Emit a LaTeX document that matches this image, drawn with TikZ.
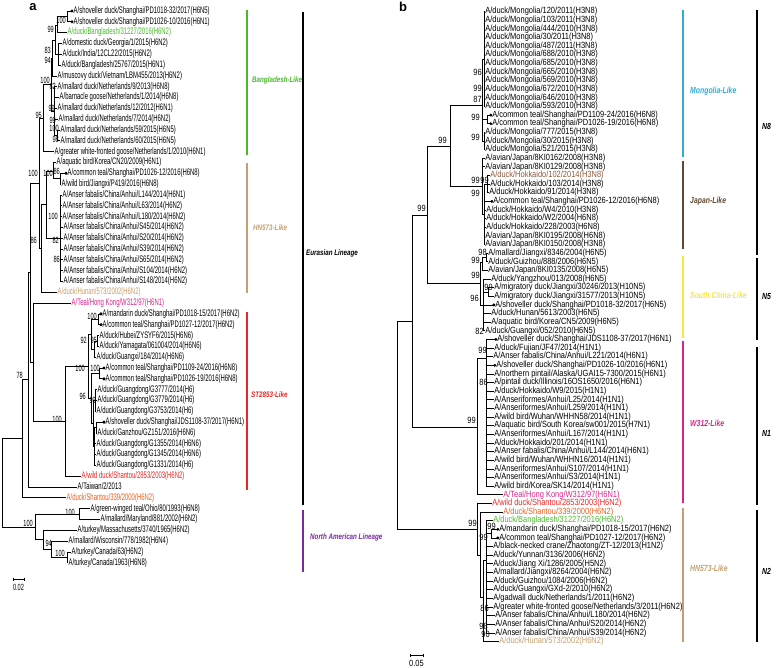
\documentclass[tikz,border=0pt]{standalone}
\usepackage{fontspec}
\setmainfont{Liberation Sans}
\newfontfamily\lfont[FakeStretch=0.625]{Liberation Sans}
\newfontfamily\rfont[FakeStretch=0.83]{Liberation Sans}
\newfontfamily\cfont[FakeStretch=0.78]{Liberation Sans}
\definecolor{cBang}{RGB}{77,183,46}
\definecolor{cHN}{RGB}{196,160,112}
\definecolor{cST}{RGB}{232,38,36}
\definecolor{cW}{RGB}{214,38,140}
\definecolor{cSto}{RGB}{232,96,30}
\definecolor{cNA}{RGB}{120,40,160}
\definecolor{cMon}{RGB}{50,172,214}
\definecolor{cJap}{RGB}{98,72,48}
\definecolor{cSC}{RGB}{250,230,60}
\definecolor{cHok}{RGB}{140,90,60}
\tikzset{
  br/.style={line width=0.7pt},
  lf/.style={anchor=west, inner sep=0.5pt, text height=6.8pt, text depth=2pt, font=\lfont\fontsize{9.5pt}{9.5pt}\selectfont},
  rf/.style={anchor=west, inner sep=0.1pt, text height=6.4pt, text depth=1.9pt, font=\rfont\fontsize{9pt}{9pt}\selectfont},
  lbs/.style={anchor=east, inner sep=0pt, font=\lfont\fontsize{9pt}{9pt}\selectfont},
  rbs/.style={anchor=east, inner sep=0pt, font=\rfont\fontsize{9pt}{9pt}\selectfont},
  bar/.style={line width=1.6pt},
  lcl/.style={anchor=west, inner sep=0pt, font=\cfont\bfseries\itshape\fontsize{8pt}{8pt}\selectfont},
  rcl/.style={anchor=west, inner sep=0pt, font=\cfont\bfseries\itshape\fontsize{8.8pt}{8.8pt}\selectfont},
  pnl/.style={inner sep=0pt, font=\bfseries\fontsize{13pt}{13pt}\selectfont}
}
\begin{document}
\begin{tikzpicture}[x=1pt,y=-1pt]
\useasboundingbox (0,0) rectangle (778,668);
\node[pnl] (pa) at (33,7) {a};
\node[pnl] (pb) at (403,7) {b};

\node[lf] (a1) at (73,11) {A/shoveller duck/Shanghai/PD1018-32/2017(H6N5)};
\node[lf] (a2) at (73,21.8) {A/shoveller duck/Shanghai/PD1026-10/2016(H6N1)};
\node[lf, cBang] (a3) at (67,32.6) {A/duck/Bangladesh/31227/2016(H6N2)};
\node[lf] (a4) at (62,43.5) {A/domestic duck/Georgia/1/2015(H6N2)};
\node[lf] (a5) at (62,54.3) {A/duck/India/12CL22/2015(H6N2)};
\node[lf] (a6) at (61,65.1) {A/duck/Bangladesh/25767/2015(H6N1)};
\node[lf] (a7) at (57,75.9) {A/muscovy duck/Vietnam/LBM455/2013(H6N2)};
\node[lf] (a8) at (57,86.7) {A/mallard duck/Netherlands/9/2013(H6N8)};
\node[lf] (a9) at (59,97.6) {A/barnacle goose/Netherlands/1/2014(H6N8)};
\node[lf] (a10) at (57,108.4) {A/mallard duck/Netherlands/12/2012(H6N1)};
\node[lf] (a11) at (58,119.2) {A/mallard duck/Netherlands/7/2014(H6N2)};
\node[lf] (a12) at (60,130) {A/mallard duck/Netherlands/59/2015(H6N5)};
\node[lf] (a13) at (60,140.8) {A/mallard duck/Netherlands/60/2015(H6N5)};
\node[lf] (a14) at (54,151.7) {A/greater white-fronted goose/Netherlands/1/2010(H6N1)};
\node[lf] (a15) at (56,162.5) {A/aquatic bird/Korea/CN20/2009(H6N1)};
\node[lf] (a16) at (67,173.3) {A/common teal/Shanghai/PD1026-12/2016(H6N8)};
\node[lf] (a17) at (61,184.1) {A/wild bird/Jiangxi/P419/2016(H6N8)};
\node[lf] (a18) at (62,194.9) {A/Anser fabalis/China/Anhui/L144/2014(H6N1)};
\node[lf] (a19) at (62,205.8) {A/Anser fabalis/China/Anhui/L63/2014(H6N2)};
\node[lf] (a20) at (62,216.6) {A/Anser fabalis/China/Anhui/L180/2014(H6N2)};
\node[lf] (a21) at (63,227.4) {A/Anser fabalis/China/Anhui/S45/2014(H6N2)};
\node[lf] (a22) at (63,238.2) {A/Anser fabalis/China/Anhui/S20/2014(H6N2)};
\node[lf] (a23) at (63,249) {A/Anser fabalis/China/Anhui/S39/2014(H6N2)};
\node[lf] (a24) at (63,259.8) {A/Anser fabalis/China/Anhui/S65/2014(H6N2)};
\node[lf] (a25) at (63,270.7) {A/Anser fabalis/China/Anhui/S104/2014(H6N2)};
\node[lf] (a26) at (63,281.5) {A/Anser fabalis/China/Anhui/S148/2014(H6N2)};
\node[lf, cHN] (a27) at (57,292.3) {A/duck/Hunan/573/2002(H6N2)};
\node[lf, cW] (a28) at (71,303.1) {A/Teal/Hong Kong/W312/97(H6N1)};
\node[lf] (a29) at (102,313.9) {A/mandarin duck/Shanghai/PD1018-15/2017(H6N2)};
\node[lf] (a30) at (102,324.7) {A/common teal/Shanghai/PD1027-12/2017(H6N2)};
\node[lf] (a31) at (99,335.6) {A/duck/Hubei/ZYSYF6/2015(H6N6)};
\node[lf] (a32) at (99,346.4) {A/duck/Yamagata/061004/2014(H6N6)};
\node[lf] (a33) at (96,357.2) {A/duck/Guangxi/184/2014(H6N6)};
\node[lf] (a34) at (105,368) {A/common teal/Shanghai/PD1109-24/2016(H6N8)};
\node[lf] (a35) at (105,378.8) {A/common teal/Shanghai/PD1026-19/2016(H6N8)};
\node[lf] (a36) at (97,389.6) {A/duck/Guangdong/G3777/2014(H6)};
\node[lf] (a37) at (97,400.5) {A/duck/Guangdong/G3779/2014(H6)};
\node[lf] (a38) at (96,411.3) {A/duck/Guangdong/G3753/2014(H6)};
\node[lf] (a39) at (105,422.1) {A/shoveller duck/Shanghai/JDS1108-37/2017(H6N1)};
\node[lf] (a40) at (97,432.9) {A/duck/Ganzhou/GZ151/2016(H6N6)};
\node[lf] (a41) at (96,443.7) {A/duck/Guangdong/G1355/2014(H6N6)};
\node[lf] (a42) at (96,454.5) {A/duck/Guangdong/G1345/2014(H6N6)};
\node[lf] (a43) at (96,465.4) {A/duck/Guangdong/G1331/2014(H6)};
\node[lf, cST] (a44) at (81,476.2) {A/wild duck/Shantou/2853/2003(H6N2)};
\node[lf] (a45) at (77,487) {A/Taiwan/2/2013};
\node[lf, cSto] (a46) at (66,497.8) {A/duck/Shantou/339/2000(H6N2)};
\node[lf] (a47) at (90,508.6) {A/green-winged teal/Ohio/80/1993(H6N8)};
\node[lf] (a48) at (100,519.4) {A/mallard/Maryland/881/2002(H6N2)};
\node[lf] (a49) at (77,530.3) {A/turkey/Massachusetts/3740/1965(H6N2)};
\node[lf] (a50) at (68,541.1) {A/mallard/Wisconsin/778/1982(H6N4)};
\node[lf] (a51) at (71,551.9) {A/turkey/Canada/63(H6N2)};
\node[lf] (a52) at (68,562.7) {A/turkey/Canada/1963(H6N8)};

\coordinate (aA12) at (67,16.4);
\coordinate (aAS2) at (57,25);
\coordinate (aAS3) at (58,54.3);
\coordinate (aAS1) at (55,40);
\coordinate (aAS) at (52,58);
\coordinate (aNL2) at (57,135.4);
\coordinate (aNL) at (54,111);
\coordinate (aBL) at (51,84.5);
\coordinate (aY) at (43,118);
\coordinate (aH2) at (60,178.7);
\coordinate (aH1) at (53,171);
\coordinate (aAN) at (60,238);
\coordinate (aH) at (46,204.5);
\coordinate (aZ) at (41,248.4);
\coordinate (aX) at (39,183.2);
\coordinate (aU1) at (98,319.3);
\coordinate (aU3) at (97,341);
\coordinate (aU2) at (94,349);
\coordinate (aU) at (91,334);
\coordinate (aV1) at (99,373.4);
\coordinate (aV3) at (95,400.4);
\coordinate (aV5) at (96,427.5);
\coordinate (aV4) at (94.5,446);
\coordinate (aV2) at (93,423);
\coordinate (aV) at (91,398);
\coordinate (aT) at (88,366);
\coordinate (aS) at (65,421);
\coordinate (aW) at (33,362);
\coordinate (aQ) at (30,272.6);
\coordinate (aP) at (28,379.8);
\coordinate (aE) at (22,438.8);
\coordinate (aNA1) at (79,514);
\coordinate (aNA4) at (67,557.3);
\coordinate (aNA3) at (51,549.2);
\coordinate (aNA2) at (43,539.8);
\coordinate (aNA) at (35,526.9);
\coordinate (aRoot) at (2,482.9);

\draw[br] (aRoot) |- (aE) (aRoot) |- (aNA);
\draw[br] (aE) |- (aP) (aE) |- (a46);
\draw[br] (aP) |- (aQ) (aP) |- (a45);
\draw[br] (aQ) |- (aX) (aQ) |- (aW);
\draw[br] (aW) |- (a28) (aW) |- (aS);
\draw[br] (aS) |- (aT) (aS) |- (a44);
\draw[br] (aT) |- (aU) (aT) |- (aV);
\draw[br] (aU) |- (aU1) (aU) |- (aU2);
\draw[br] (aU1) |- (a29) (aU1) |- (a30);
\draw[br] (aU2) |- (aU3) (aU2) |- (a33);
\draw[br] (aU3) |- (a31) (aU3) |- (a32);
\draw[br] (aV) |- (aV1) (aV) |- (aV2);
\draw[br] (aV1) |- (a34) (aV1) |- (a35);
\draw[br] (aV2) |- (aV3) (aV2) |- (aV4);
\draw[br] (aV3) |- (a36) (aV3) |- (a37) (aV3) |- (a38);
\draw[br] (aV4) |- (aV5) (aV4) |- (a41) (aV4) |- (a42) (aV4) |- (a43);
\draw[br] (aV5) |- (a39) (aV5) |- (a40);
\draw[br] (aX) |- (aY) (aX) |- (aZ);
\draw[br] (aY) |- (aBL) (aY) |- (a14);
\draw[br] (aBL) |- (aAS) (aBL) |- (aNL);
\draw[br] (aAS) |- (aAS1) (aAS) |- (a7);
\draw[br] (aAS1) |- (aAS2) (aAS1) |- (aAS3);
\draw[br] (aAS2) |- (aA12) (aAS2) |- (a3);
\draw[br] (aA12) |- (a1) (aA12) |- (a2);
\draw[br] (aAS3) |- (a4) (aAS3) |- (a5) (aAS3) |- (a6);
\draw[br] (aNL) |- (a8) (aNL) |- (a9) (aNL) |- (a10) (aNL) |- (a11) (aNL) |- (aNL2);
\draw[br] (aNL2) |- (a12) (aNL2) |- (a13);
\draw[br] (aZ) |- (aH) (aZ) |- (a27);
\draw[br] (aH) |- (aH1) (aH) |- (aAN);
\draw[br] (aH1) |- (a15) (aH1) |- (aH2);
\draw[br] (aH2) |- (a16) (aH2) |- (a17);
\draw[br] (aAN) |- (a18) (aAN) |- (a19) (aAN) |- (a20) (aAN) |- (a21) (aAN) |- (a22)
  (aAN) |- (a23) (aAN) |- (a24) (aAN) |- (a25) (aAN) |- (a26);
\draw[br] (aNA) |- (aNA1) (aNA) |- (aNA2);
\draw[br] (aNA1) |- (a47) (aNA1) |- (a48);
\draw[br] (aNA2) |- (a49) (aNA2) |- (aNA3);
\draw[br] (aNA3) |- (a50) (aNA3) |- (aNA4);
\draw[br] (aNA4) |- (a51) (aNA4) |- (a52);
\fill ([xshift=-1pt]a1.west) circle (1.7pt) ([xshift=-1pt]a2.west) circle (1.7pt)
  ([xshift=-1pt]a16.west) circle (1.7pt) ([xshift=-1pt]a29.west) circle (1.7pt)
  ([xshift=-1pt]a30.west) circle (1.7pt) ([xshift=-1pt]a34.west) circle (1.7pt)
  ([xshift=-1pt]a35.west) circle (1.7pt) ([xshift=-1pt]a39.west) circle (1.7pt);

\node[lbs] (sa1) at (66,20) {100};
\node[lbs] (sa2) at (54,29) {99};
\node[lbs] (sa3) at (51,50) {83};
\node[lbs] (sa4) at (51,60) {94};
\node[lbs] (sa5) at (50,80) {100};
\node[lbs] (sa6) at (56,86) {82};
\node[lbs] (sa7) at (55,108) {99};
\node[lbs] (sa8) at (56,120) {99};
\node[lbs] (sa9) at (59,128) {100};
\node[lbs] (sa10) at (59,139) {98};
\node[lbs] (sa11) at (42,115) {95};
\node[lbs] (sa12) at (38,173) {100};
\node[lbs] (sa13) at (53,173) {100};
\node[lbs] (sa14) at (60,171) {86};
\node[lbs] (sa15) at (58,216) {100};
\node[lbs] (sa16) at (59,240) {82};
\node[lbs] (sa17) at (60,259) {86};
\node[lbs] (sa18) at (37,240) {86};
\node[lbs] (sa19) at (23,375) {78};
\node[lbs] (sa20) at (97,316) {100};
\node[lbs] (sa21) at (87,340) {92};
\node[lbs] (sa22) at (97,340) {95};
\node[lbs] (sa23) at (100,368) {100};
\node[lbs] (sa24) at (85,368) {100};
\node[lbs] (sa25) at (86,396) {96};
\node[lbs] (sa26) at (96,400) {99};
\node[lbs] (sa27) at (62,419) {100};
\node[lbs] (sa28) at (33,523) {100};
\node[lbs] (sa29) at (75,512) {100};
\node[lbs] (sa30) at (52,543) {94};
\node[lbs] (sa31) at (65,553) {100};

\draw[br] (13,577.5) -- (13,580.5) (13,579) -- (24,579) (24,577.5) -- (24,580.5);
\node[lbs, anchor=center] (sca) at (18.5,587) {0.02};

\draw[bar, cBang] (247,10) -- (247,155);
\draw[bar, cHN] (247,163) -- (247,293);
\draw[bar, cST] (247,312) -- (247,490);
\draw[bar, black] (303,12) -- (303,505);
\draw[bar, cNA] (303,510) -- (303,572);
\node[lcl, cBang] (ca1) at (252,80) {Bangladesh-Like};
\node[lcl, cHN] (ca2) at (253,228) {HN573-Like};
\node[lcl, cST] (ca3) at (251,395) {ST2853-Like};
\node[lcl] (ca4) at (306,253) {Eurasian Lineage};
\node[lcl, cNA] (ca5) at (310,537) {North American Lineage};

\node[rf] (b1) at (485,11.5) {A/duck/Mongolia/120/2011(H3N8)};
\node[rf] (b2) at (485,20.1) {A/duck/Mongolia/103/2011(H3N8)};
\node[rf] (b3) at (485,28.8) {A/duck/Mongolia/444/2010(H3N8)};
\node[rf] (b4) at (485,37.4) {A/duck/Mongolia/30/2011(H3N8)};
\node[rf] (b5) at (485,46) {A/duck/Mongolia/487/2011(H3N8)};
\node[rf] (b6) at (485,54.7) {A/duck/Mongolia/688/2010(H3N8)};
\node[rf] (b7) at (485,63.3) {A/duck/Mongolia/685/2010(H3N8)};
\node[rf] (b8) at (485,71.9) {A/duck/Mongolia/665/2010(H3N8)};
\node[rf] (b9) at (485,80.5) {A/duck/Mongolia/569/2010(H3N8)};
\node[rf] (b10) at (485,89.2) {A/duck/Mongolia/672/2010(H3N8)};
\node[rf] (b11) at (485,97.8) {A/duck/Mongolia/646/2010(H3N8)};
\node[rf] (b12) at (485,106.4) {A/duck/Mongolia/593/2010(H3N8)};
\node[rf] (b13) at (492,115.1) {A/common teal/Shanghai/PD1109-24/2016(H6N8)};
\node[rf] (b14) at (492,123.7) {A/common teal/Shanghai/PD1026-19/2016(H6N8)};
\node[rf] (b15) at (485,132.3) {A/duck/Mongolia/777/2015(H3N8)};
\node[rf] (b16) at (485,140.9) {A/duck/Mongolia/30/2015(H3N8)};
\node[rf] (b17) at (485,149.6) {A/duck/Mongolia/521/2015(H3N8)};
\node[rf] (b18) at (485,158.2) {A/avian/Japan/8KI0162/2008(H3N8)};
\node[rf] (b19) at (485,166.8) {A/avian/Japan/8KI0129/2008(H3N8)};
\node[rf, cHok] (b20) at (490,175.5) {A/duck/Hokkaido/102/2014(H3N8)};
\node[rf] (b21) at (490,184.1) {A/duck/Hokkaido/103/2014(H3N8)};
\node[rf] (b22) at (489,192.7) {A/duck/Hokkaido/91/2014(H3N8)};
\node[rf] (b23) at (493,201.4) {A/common teal/Shanghai/PD1026-12/2016(H6N8)};
\node[rf] (b24) at (486,210) {A/duck/Hokkaido/W4/2010(H3N8)};
\node[rf] (b25) at (486,218.6) {A/duck/Hokkaido/W2/2004(H6N8)};
\node[rf] (b26) at (486,227.2) {A/duck/Hokkaido/228/2003(H6N8)};
\node[rf] (b27) at (485,235.9) {A/avian/Japan/8KI0195/2008(H6N8)};
\node[rf] (b28) at (485,244.5) {A/avian/Japan/8KI0150/2008(H3N8)};
\node[rf] (b29) at (488,253.1) {A/mallard/Jiangxi/8346/2004(H6N5)};
\node[rf] (b30) at (488,261.8) {A/duck/Guizhou/888/2006(H6N5)};
\node[rf] (b31) at (488,270.4) {A/avian/Japan/8KI0135/2008(H6N5)};
\node[rf] (b32) at (491,279) {A/duck/Yangzhou/013/2008(H6N5)};
\node[rf] (b33) at (494,287.7) {A/migratory duck/Jiangxi/30246/2013(H10N5)};
\node[rf] (b34) at (494,296.3) {A/migratory duck/Jiangxi/31577/2013(H10N5)};
\node[rf] (b35) at (495,304.9) {A/shoveller duck/Shanghai/PD1018-32/2017(H6N5)};
\node[rf] (b36) at (491,313.5) {A/duck/Hunan/5613/2003(H6N5)};
\node[rf] (b37) at (491,322.2) {A/aquatic bird/Korea/CN5/2009(H6N5)};
\node[rf] (b38) at (485,330.8) {A/duck/Guangxi/052/2010(H6N5)};
\node[rf] (b39) at (497,339.4) {A/shoveller duck/Shanghai/JDS1108-37/2017(H6N1)};
\node[rf] (b40) at (494,348.1) {A/duck/Fujian/JF47/2014(H1N1)};
\node[rf] (b41) at (493,356.7) {A/Anser fabalis/China/Anhui/L221/2014(H6N1)};
\node[rf] (b42) at (496,365.3) {A/shoveller duck/Shanghai/PD1026-10/2016(H6N1)};
\node[rf] (b43) at (494,374) {A/northern pintail/Alaska/UGAI15-7300/2015(H6N1)};
\node[rf] (b44) at (494,382.6) {A/pintail duck/Illinois/16OS1650/2016(H6N1)};
\node[rf] (b45) at (494,391.2) {A/duck/Hokkaido/W9/2015(H1N1)};
\node[rf] (b46) at (494,399.8) {A/Anseriformes/Anhui/L25/2014(H1N1)};
\node[rf] (b47) at (494,408.5) {A/Anseriformes/Anhui/L259/2014(H1N1)};
\node[rf] (b48) at (494,417.1) {A/wild bird/Wuhan/WHHN58/2014(H1N1)};
\node[rf] (b49) at (494,425.7) {A/aquatic bird/South Korea/sw001/2015(H7N1)};
\node[rf] (b50) at (494,434.4) {A/Anseriformes/Anhui/L167/2014(H1N1)};
\node[rf] (b51) at (494,443) {A/duck/Hokkaido/201/2014(H1N1)};
\node[rf] (b52) at (494,451.6) {A/Anser fabalis/China/Anhui/L144/2014(H6N1)};
\node[rf] (b53) at (494,460.3) {A/wild bird/Wuhan/WHHN16/2014(H1N1)};
\node[rf] (b54) at (494,468.9) {A/Anseriformes/Anhui/S107/2014(H1N1)};
\node[rf] (b55) at (494,477.5) {A/Anseriformes/Anhui/S3/2014(H1N1)};
\node[rf] (b56) at (494,486.1) {A/wild bird/Korea/SK14/2014(H1N1)};
\node[rf, cW] (b57) at (503,494.8) {A/Teal/Hong Kong/W312/97(H6N1)};
\node[rf, cST] (b58) at (492,503.4) {A/wild duck/Shantou/2853/2003(H6N2)};
\node[rf, cSto] (b59) at (503,512) {A/duck/Shantou/339/2000(H6N2)};
\node[rf, cBang] (b60) at (493,520.7) {A/duck/Bangladesh/31227/2016(H6N2)};
\node[rf] (b61) at (499,529.3) {A/mandarin duck/Shanghai/PD1018-15/2017(H6N2)};
\node[rf] (b62) at (499,537.9) {A/common teal/Shanghai/PD1027-12/2017(H6N2)};
\node[rf] (b63) at (493,546.6) {A/black-necked crane/Zhaotong/ZT-12/2013(H1N2)};
\node[rf] (b64) at (493,555.2) {A/duck/Yunnan/3136/2006(H6N2)};
\node[rf] (b65) at (493,563.8) {A/duck/Jiang Xi/1286/2005(H5N2)};
\node[rf] (b66) at (493,572.4) {A/mallard/Jiangxi/8264/2004(H6N2)};
\node[rf] (b67) at (493,581.1) {A/duck/Guizhou/1084/2006(H6N2)};
\node[rf] (b68) at (493,589.7) {A/duck/Guangxi/GXd-2/2010(H6N2)};
\node[rf] (b69) at (493,598.3) {A/gadwall duck/Netherlands/1/2011(H6N2)};
\node[rf] (b70) at (493,607) {A/greater white-fronted goose/Netherlands/3/2011(H6N2)};
\node[rf] (b71) at (495,615.6) {A/Anser fabalis/China/Anhui/L180/2014(H6N2)};
\node[rf] (b72) at (495,624.2) {A/Anser fabalis/China/Anhui/S20/2014(H6N2)};
\node[rf] (b73) at (495,632.9) {A/Anser fabalis/China/Anhui/S39/2014(H6N2)};
\node[rf, cHN] (b74) at (499,641.5) {A/duck/Hunan/573/2002(H6N2)};

\coordinate (bM1) at (484,59);
\coordinate (bM2) at (487,119.4);
\coordinate (bM3) at (484,140.9);
\coordinate (bM) at (482,105);
\coordinate (bJ2) at (487,184.1);
\coordinate (bJ1) at (484,214.3);
\coordinate (bJ) at (482,186.3);
\coordinate (bN8) at (450,146);
\coordinate (bS2) at (486,257.4);
\coordinate (bS1) at (482,262);
\coordinate (bS4) at (488,292);
\coordinate (bS3) at (483,305);
\coordinate (bN5) at (480,283.5);
\coordinate (bB) at (427,215);
\coordinate (bW) at (486,358);
\coordinate (bN1) at (477,427);
\coordinate (bA) at (412,321.5);
\coordinate (bN2d) at (491,533.6);
\coordinate (bN2c) at (486,560);
\coordinate (bN2b) at (483,597);
\coordinate (bN2a) at (480,555);
\coordinate (bN2) at (477,529);
\coordinate (bRoot) at (397,424.5);

\draw[br] (bRoot) |- (bA) (bRoot) |- (bN2);
\draw[br] (bA) |- (bB) (bA) |- (bN1);
\draw[br] (bB) |- (bN8) (bB) |- (bN5);
\draw[br] (bN8) |- (bM) (bN8) |- (bJ);
\draw[br] (bM) |- (bM1) (bM) |- (bM2) (bM) |- (bM3);
\draw[br] (bM1) |- (b1) (bM1) |- (b2) (bM1) |- (b3) (bM1) |- (b4) (bM1) |- (b5) (bM1) |- (b6)
  (bM1) |- (b7) (bM1) |- (b8) (bM1) |- (b9) (bM1) |- (b10) (bM1) |- (b11) (bM1) |- (b12);
\draw[br] (bM2) |- (b13) (bM2) |- (b14);
\draw[br] (bM3) |- (b15) (bM3) |- (b16) (bM3) |- (b17);
\draw[br] (bJ) |- (b18) (bJ) |- (b19) (bJ) |- (bJ1);
\draw[br] (bJ1) |- (bJ2) (bJ1) |- (b23) (bJ1) |- (b24) (bJ1) |- (b25) (bJ1) |- (b26)
  (bJ1) |- (b27) (bJ1) |- (b28);
\draw[br] (bJ2) |- (b20) (bJ2) |- (b21) (bJ2) |- (b22);
\draw[br] (bN5) |- (bS1) (bN5) |- (bS3);
\draw[br] (bS1) |- (bS2) (bS1) |- (b31);
\draw[br] (bS2) |- (b29) (bS2) |- (b30);
\draw[br] (bS3) |- (b32) (bS3) |- (bS4) (bS3) |- (b35) (bS3) |- (b36) (bS3) |- (b37) (bS3) |- (b38);
\draw[br] (bS4) |- (b33) (bS4) |- (b34);
\draw[br] (bN1) |- (bW) (bN1) |- (b57);
\draw[br] (bW) |- (b39) (bW) |- (b40) (bW) |- (b41) (bW) |- (b42) (bW) |- (b43) (bW) |- (b44)
  (bW) |- (b45) (bW) |- (b46) (bW) |- (b47) (bW) |- (b48) (bW) |- (b49) (bW) |- (b50)
  (bW) |- (b51) (bW) |- (b52) (bW) |- (b53) (bW) |- (b54) (bW) |- (b55) (bW) |- (b56);
\draw[br] (bN2) |- (b58) (bN2) |- (bN2a);
\draw[br] (bN2a) |- (b59) (bN2a) |- (bN2b);
\draw[br] (bN2b) |- (bN2c) (bN2b) |- (b74);
\draw[br] (bN2c) |- (b60) (bN2c) |- (bN2d) (bN2c) |- (b63) (bN2c) |- (b64) (bN2c) |- (b65)
  (bN2c) |- (b66) (bN2c) |- (b67) (bN2c) |- (b68) (bN2c) |- (b69) (bN2c) |- (b70)
  (bN2c) |- (b71) (bN2c) |- (b72) (bN2c) |- (b73);
\draw[br] (bN2d) |- (b61) (bN2d) |- (b62);
\fill ([xshift=-1.2pt]b13.west) circle (1.6pt) ([xshift=-1.2pt]b14.west) circle (1.6pt)
  ([xshift=-1.2pt]b23.west) circle (1.6pt) ([xshift=-1.2pt]b35.west) circle (1.6pt)
  ([xshift=-1.2pt]b39.west) circle (1.6pt) ([xshift=-1.2pt]b42.west) circle (1.6pt)
  ([xshift=-1.2pt]b61.west) circle (1.6pt) ([xshift=-1.2pt]b62.west) circle (1.6pt);

\node[rbs] (sb1) at (482,72) {96};
\node[rbs] (sb2) at (482,88) {99};
\node[rbs] (sb3) at (482,99) {87};
\node[rbs] (sb4) at (480,117) {99};
\node[rbs] (sb5) at (480,137) {99};
\node[rbs] (sb6) at (447,140) {99};
\node[rbs] (sb7) at (426,208) {99};
\node[rbs] (sb8) at (480,180) {99};
\node[rbs] (sb9) at (489,180) {99};
\node[rbs] (sb10) at (480,193) {99};
\node[rbs] (sb11) at (487,252) {98};
\node[rbs] (sb12) at (480,260) {99};
\node[rbs] (sb13) at (480,275) {99};
\node[rbs] (sb14) at (493,287) {99};
\node[rbs] (sb15) at (479,298) {96};
\node[rbs] (sb16) at (484,331) {82};
\node[rbs] (sb17) at (487,350) {99};
\node[rbs] (sb18) at (488,382) {86};
\node[rbs] (sb19) at (476,420) {99};
\node[rbs] (sb20) at (477,523) {99};
\node[rbs] (sb21) at (496,526) {99};
\node[rbs] (sb22) at (488,537) {99};
\node[rbs] (sb23) at (489,608) {86};
\node[rbs] (sb24) at (488,626) {98};
\node[rbs] (sb25) at (490,634) {90};

\draw[br] (410,653.5) -- (410,656.5) (410,655) -- (423,655) (423,653.5) -- (423,656.5);
\node[rbs, anchor=center] (scb) at (416.5,663) {0.05};

\draw[bar, cMon] (683,10) -- (683,157);
\draw[bar, cJap] (683,161) -- (683,249);
\draw[bar, cSC] (683,256) -- (683,338);
\draw[bar, cW] (683,341) -- (683,503);
\draw[bar, cHN] (683,508) -- (683,642);
\draw[bar, black] (757,10) -- (757,255);
\draw[bar, black] (757,258) -- (757,340);
\draw[bar, black] (757,347) -- (757,505);
\draw[bar, black] (757,510) -- (757,642);
\node[rcl, cMon] (cb1) at (690,91) {Mongolia-Like};
\node[rcl, cJap] (cb2) at (690,201) {Japan-Like};
\node[rcl, cSC] (cb3) at (690,295) {South China-Like};
\node[rcl, cW] (cb4) at (690,423) {W312-Like};
\node[rcl, cHN] (cb5) at (690,568) {HN573-Like};
\node[rcl] (cb6) at (762,126) {N8};
\node[rcl] (cb7) at (762,297) {N5};
\node[rcl] (cb8) at (762,433) {N1};
\node[rcl] (cb9) at (762,571) {N2};
\end{tikzpicture}
\end{document}
